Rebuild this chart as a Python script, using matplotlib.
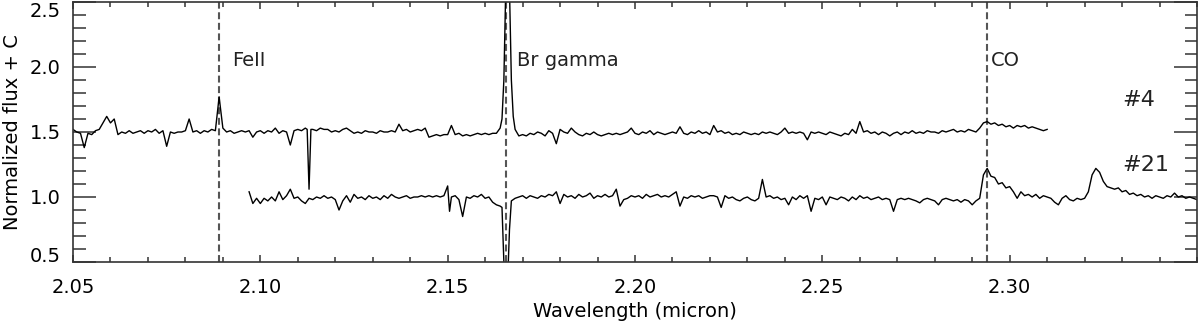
import numpy as np
import matplotlib
matplotlib.use("Agg")
import matplotlib.pyplot as plt

plt.rcParams['font.family'] = ['DejaVu Sans']
plt.rcParams['lines.scale_dashes'] = False

# ---------------- data ----------------
# Spectrum #4 : sampled every 0.001 micron starting at 2.050
start4 = 2.050
flux4 = [
    1.52, 1.50, 1.49, 1.38, 1.49, 1.48, 1.51, 1.52, 1.57, 1.62,   # 2.050
    1.57, 1.60, 1.48, 1.50, 1.49, 1.51, 1.49, 1.50, 1.51, 1.49,   # 2.060
    1.51, 1.50, 1.52, 1.49, 1.51, 1.39, 1.50, 1.49, 1.50, 1.50,   # 2.070
    1.51, 1.60, 1.50, 1.51, 1.49, 1.51, 1.50, 1.52, 1.51, 1.77,   # 2.080
    1.53, 1.50, 1.51, 1.49, 1.50, 1.51, 1.50, 1.51, 1.46, 1.50,   # 2.090
    1.51, 1.49, 1.51, 1.50, 1.53, 1.49, 1.51, 1.50, 1.40, 1.51,   # 2.100
    1.52, 1.51, 1.53, 1.06, 1.52, 1.51, 1.53, 1.52, 1.52, 1.50,   # 2.110
    1.51, 1.50, 1.52, 1.53, 1.51, 1.49, 1.50, 1.49, 1.51, 1.50,   # 2.120
    1.50, 1.49, 1.51, 1.50, 1.50, 1.51, 1.50, 1.56, 1.51, 1.52,   # 2.130
    1.50, 1.51, 1.52, 1.51, 1.53, 1.46, 1.47, 1.48, 1.47, 1.48,   # 2.140
    1.48, 1.55, 1.48, 1.49, 1.47, 1.48, 1.47, 1.48, 1.49, 1.48,   # 2.150
    1.49, 1.48, 1.49, 1.49, 1.53, 1.90, 3.30, 1.90, 1.52, 1.47,   # 2.160
    1.48, 1.47, 1.49, 1.48, 1.50, 1.49, 1.47, 1.51, 1.49, 1.41,   # 2.170
    1.52, 1.50, 1.49, 1.53, 1.50, 1.48, 1.47, 1.49, 1.48, 1.50,   # 2.180
    1.48, 1.47, 1.48, 1.49, 1.48, 1.49, 1.48, 1.49, 1.50, 1.53,   # 2.190
    1.49, 1.48, 1.50, 1.49, 1.51, 1.48, 1.50, 1.49, 1.48, 1.49,   # 2.200
    1.50, 1.49, 1.54, 1.49, 1.48, 1.50, 1.49, 1.51, 1.49, 1.50,   # 2.210
    1.48, 1.55, 1.50, 1.51, 1.49, 1.50, 1.48, 1.49, 1.48, 1.50,   # 2.220
    1.49, 1.48, 1.49, 1.48, 1.50, 1.49, 1.50, 1.49, 1.48, 1.50,   # 2.230
    1.53, 1.49, 1.50, 1.49, 1.50, 1.49, 1.44, 1.50, 1.49, 1.50,   # 2.240
    1.49, 1.48, 1.50, 1.49, 1.48, 1.47, 1.49, 1.48, 1.52, 1.49,   # 2.250
    1.58, 1.50, 1.51, 1.49, 1.50, 1.48, 1.50, 1.49, 1.47, 1.49,   # 2.260
    1.50, 1.48, 1.50, 1.49, 1.51, 1.49, 1.50, 1.49, 1.51, 1.50,   # 2.270
    1.50, 1.49, 1.51, 1.50, 1.51, 1.52, 1.50, 1.51, 1.50, 1.52,   # 2.280
    1.51, 1.50, 1.53, 1.57, 1.58, 1.56, 1.57, 1.55, 1.56, 1.54,   # 2.290
    1.55, 1.53, 1.55, 1.54, 1.55, 1.53, 1.54, 1.53, 1.52, 1.51,   # 2.300
    1.52,                                                         # 2.310
]
# extra samples resolving narrow features of #4
extra_wave4 = [2.1125, 2.1135, 2.1645, 2.1655, 2.1665, 2.1675]
extra_flux4 = [1.52, 1.52, 1.60, 2.60, 2.60, 1.62]

# Spectrum #21 : sampled every 0.001 micron starting at 2.097
start21 = 2.097
flux21 = [
    1.04, 0.95, 0.99,                                             # 2.097
    0.95, 0.99, 0.97, 1.00, 0.97, 1.04, 0.98, 1.01, 1.06, 0.99,   # 2.100
    1.00, 0.97, 0.95, 0.99, 0.98, 1.00, 0.99, 1.01, 0.99, 1.00,   # 2.110
    0.98, 0.90, 0.97, 1.01, 0.96, 1.02, 0.99, 1.00, 0.98, 1.01,   # 2.120
    0.99, 1.00, 0.98, 1.01, 0.99, 1.02, 1.00, 0.99, 1.00, 1.01,   # 2.130
    0.99, 1.00, 1.00, 1.01, 1.00, 1.01, 1.00, 1.01, 1.00, 1.01,   # 2.140
    1.085, 1.00, 1.01, 0.98, 0.85, 1.00, 0.99, 1.01, 1.00, 1.02,  # 2.150
    0.99, 1.00, 0.96, 0.94, 0.93, 0.50, 0.35, 0.97, 0.99, 1.00,   # 2.160
    1.01, 0.99, 1.01, 1.00, 0.99, 1.01, 1.00, 1.02, 1.01, 1.04,   # 2.170
    0.95, 1.02, 1.00, 1.01, 0.99, 1.02, 1.00, 1.01, 1.03, 0.99,   # 2.180
    1.01, 1.00, 1.02, 1.00, 1.01, 1.06, 0.93, 0.98, 0.99, 1.01,   # 2.190
    1.00, 1.01, 0.99, 1.02, 1.00, 1.01, 1.02, 1.00, 1.01, 1.00,   # 2.200
    1.02, 1.04, 0.93, 1.00, 0.99, 1.01, 1.00, 1.01, 0.99, 1.00,   # 2.210
    1.01, 1.01, 1.00, 0.92, 1.01, 0.99, 1.00, 0.98, 0.97, 0.99,   # 2.220
    1.00, 0.98, 0.97, 0.99, 1.135, 1.00, 1.01, 0.99, 1.00, 0.98,  # 2.230
    0.99, 0.94, 1.00, 0.98, 1.01, 0.99, 1.01, 0.89, 0.99, 0.98,   # 2.240
    1.00, 0.94, 1.00, 0.99, 0.98, 1.00, 0.99, 0.97, 1.00, 0.98,   # 2.250
    1.01, 0.99, 1.00, 0.98, 0.99, 1.00, 0.98, 0.99, 0.98, 0.89,   # 2.260
    0.98, 0.99, 0.98, 0.99, 0.98, 0.97, 0.955, 0.98, 0.99, 0.98,  # 2.270
    0.97, 0.94, 0.98, 0.99, 0.98, 0.97, 0.98, 0.96, 0.98, 0.97,   # 2.280
    0.94, 0.97, 0.99, 1.17, 1.22, 1.16, 1.15, 1.10, 1.11, 1.07,   # 2.290
    1.08, 1.04, 0.99, 1.04, 1.01, 1.02, 1.00, 1.02, 0.99, 1.01,   # 2.300
    1.00, 0.99, 0.96, 0.94, 0.99, 1.01, 0.98, 0.97, 0.99, 0.98,   # 2.310
    0.99, 1.04, 1.17, 1.22, 1.19, 1.12, 1.08, 1.07, 1.06, 1.07,   # 2.320
    1.04, 1.05, 1.02, 1.03, 1.01, 1.02, 1.00, 1.01, 0.99, 1.01,   # 2.330
    1.00, 0.99, 1.01, 1.00, 1.03, 1.00, 1.01, 0.99, 1.00, 0.99,   # 2.340
    0.98,                                                         # 2.350
]
extra_wave21 = [2.1505, 2.1645, 2.1655, 2.1665]
extra_flux21 = [0.89, 0.92, 0.20, 0.75]

# line identifications
line_names = ["FeII", "Br gamma", "CO"]
line_waves = [2.089, 2.1657, 2.294]
label_pos = [(2.0924, 2.05), (2.1685, 2.05), (2.2949, 2.05)]

star_names = ["#4", "#21"]
star_pos = [(2.3300, 1.745), (2.3300, 1.245)]

xticks = [2.05, 2.10, 2.15, 2.20, 2.25, 2.30]
xtick_labels = ["2.05", "2.10", "2.15", "2.20", "2.25", "2.30"]
yticks = [0.5, 1.0, 1.5, 2.0, 2.5]
ytick_labels = ["0.5", "1.0", "1.5", "2.0", "2.5"]


def build(start, flux, ew, ef):
    w = start + 0.001 * np.arange(len(flux))
    w = np.concatenate([w, ew])
    f = np.concatenate([np.asarray(flux, float), ef])
    o = np.argsort(w)
    return w[o], f[o]


w4, f4 = build(start4, flux4, extra_wave4, extra_flux4)
w21, f21 = build(start21, flux21, extra_wave21, extra_flux21)

# ---------------- figure ----------------
fig = plt.figure(figsize=(12, 3.25), dpi=100)
ax = fig.add_axes([73 / 1200, 1 - 262 / 325, 1124 / 1200, 260 / 325])

for lw_ in line_waves:
    ax.axvline(lw_, color="#555555", lw=1.5, ls=(0, (5, 2.6)), zorder=1)

ax.plot(w4, f4, color="black", lw=1.0, zorder=2)
ax.plot(w21, f21, color="black", lw=1.0, zorder=2)

FS = 14
for name, (x, y) in zip(line_names, label_pos):
    ax.text(x, y, name, fontsize=FS, ha="left", va="center", color="#222222")
for name, (x, y) in zip(star_names, star_pos):
    ax.text(x, y, name, fontsize=16, ha="left", va="center", color="#222222")

ax.set_xlim(2.05, 2.35)
ax.set_ylim(0.5, 2.5)
ax.set_xticks(xticks)
ax.set_xticklabels(xtick_labels)
ax.set_xticks(np.arange(2.05, 2.35, 0.01), minor=True)
ax.set_yticks(yticks)
ax.set_yticklabels(ytick_labels)
ax.set_yticks(np.arange(0.5, 2.51, 0.1), minor=True)

ax.tick_params(axis="both", which="both", direction="in", top=True, right=True,
               color="#333333", width=1.1)
ax.tick_params(axis="y", which="major", length=16.5, pad=9, labelsize=FS)
ax.tick_params(axis="y", which="minor", length=9)
ax.tick_params(axis="x", which="major", length=5, pad=11.5, labelsize=FS)
ax.tick_params(axis="x", which="minor", length=3.5)
for s in ax.spines.values():
    s.set_linewidth(1.2)
    s.set_color("#333333")

ylabs = ax.get_yticklabels()
ylabs[-1].set_va("top")
ylabs[0].set_va("baseline")

fig.text(635 / 1200, 1 - 317 / 325, "Wavelength (micron)", fontsize=FS,
         ha="center", va="baseline")
fig.text(18 / 1200, 1 - 132.5 / 325, "Normalized flux + C", fontsize=FS,
         rotation=90, rotation_mode="anchor", ha="center", va="baseline")

fig.savefig("out.png", dpi=100)
